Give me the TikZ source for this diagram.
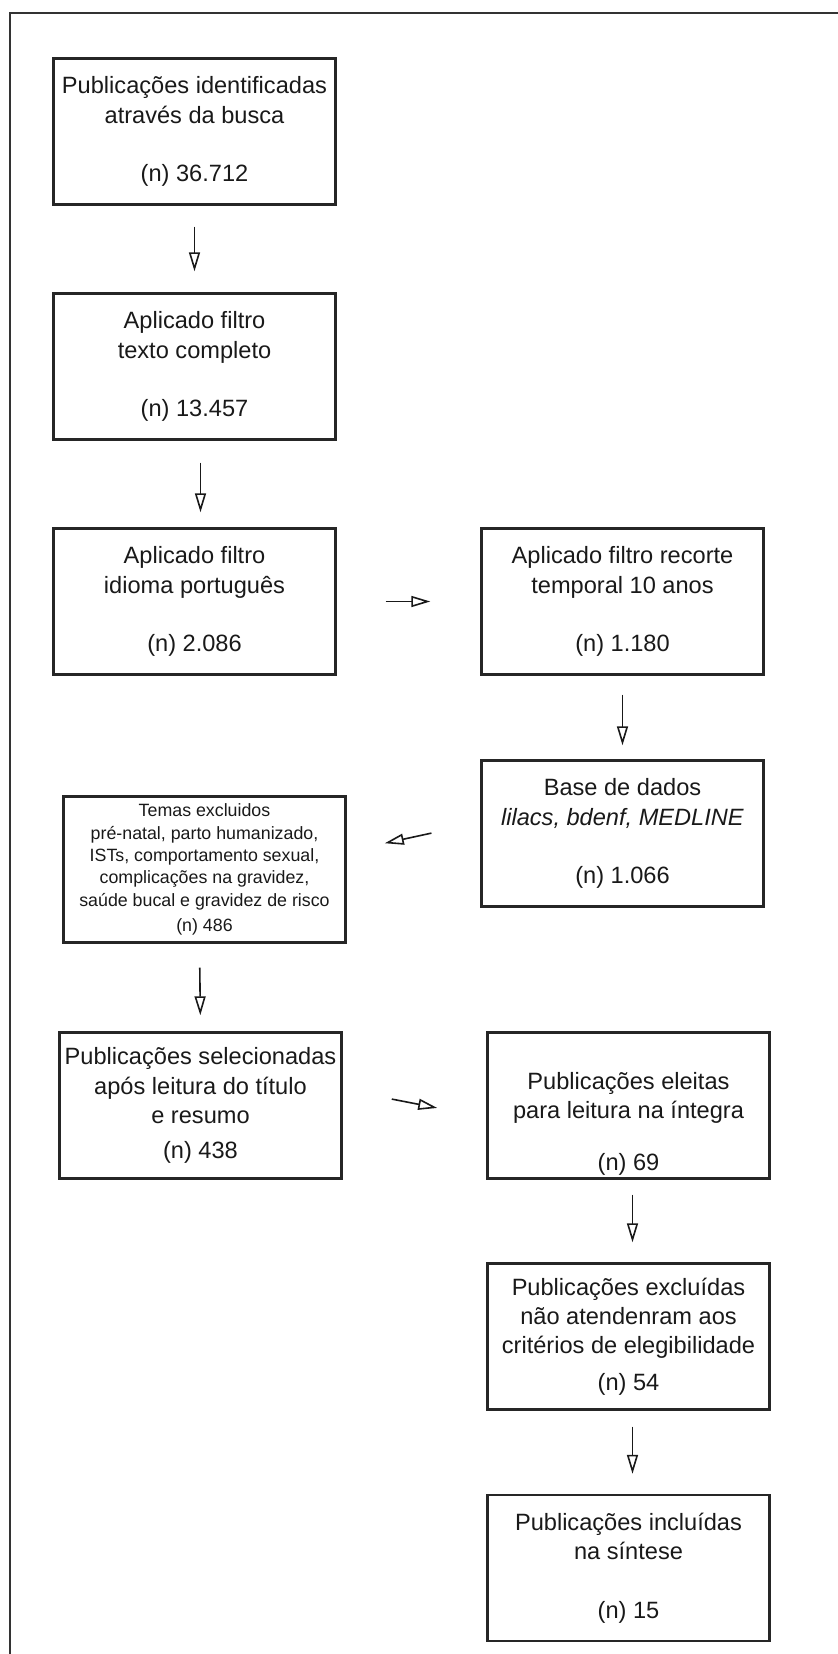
\documentclass[tikz,border=0pt]{standalone}
\usepackage{fontspec}
\setmainfont{Liberation Sans}
\usetikzlibrary{positioning, arrows.meta}

\begin{document}
\begin{tikzpicture}[>={Triangle[open,length=9.5pt,width=5.5pt]},node distance=117.5pt and 214pt,on grid,
    box/.style={draw=black!85,line width=1.2pt,minimum width=141pt,minimum height=73pt,inner sep=0pt,
        align=center,text=black!90,font=\fontsize{11.8}{14.6}\selectfont},
    miudo/.style={font=\fontsize{8.9}{11.2}\selectfont},
    seta/.style={->,color=black!90,line width=0.8pt,shorten >=9pt,shorten <=9pt}]

    \useasboundingbox (0,0) rectangle (419pt,-827pt);
    \draw[line width=1.1pt,black!80] (5pt,-827pt) |- (419pt,-6.5pt);

    \node[box] (busca) at (97.25pt,-65.75pt) {Publicações identificadas\\através da busca\\ \\(n) 36.712};
    \node[box] (texto) [below=of busca] {Aplicado filtro\\texto completo\\ \\(n) 13.457};
    \node[box] (idioma) [below=of texto] {Aplicado filtro\\idioma português\\ \\(n) 2.086};
    \node[box] (recorte) [right=of idioma] {Aplicado filtro recorte\\temporal 10 anos\\ \\(n) 1.180};
    \node[box] (bases) [below=116pt of recorte] {Base de dados\\\textit{lilacs, bdenf, MEDLINE}\\ \\(n) 1.066};
    \node[box,miudo] (temas) [below left=18pt and 209pt of bases] {Temas excluidos\\pré-natal, parto humanizado,\\ISTs, comportamento sexual,\\complicações na gravidez,\\saúde bucal e gravidez de risco\\[1.5pt](n) 486};
    \node[box] (selec) [below left=118pt and 2pt of temas] {Publicações selecionadas\\após leitura do título\\e resumo\\[3pt](n) 438};
    \node[box] (eleitas) [right=of selec] {\rule{0pt}{27pt}Publicações eleitas\\para leitura na íntegra\\[11.5pt](n) 69};
    \node[box] (excl) [below=115.5pt of eleitas] {Publicações excluídas\\não atendenram aos\\critérios de elegibilidade\\[3.5pt](n) 54};
    \node[box] (sintese) [below=115.75pt of excl] {Publicações incluídas\\na síntese\\ \\(n) 15};

    \path[seta]
    (busca) edge[shorten <=10.5pt,shorten >=10.5pt] (texto)
    ([xshift=3pt]texto.south) edge[shorten <=11pt,shorten >=7.5pt] ([xshift=3pt]idioma.north)
    (idioma) edge[shorten <=24.5pt,shorten >=25pt] (recorte)
    (recorte) edge[shorten <=9.5pt,shorten >=7pt] (bases)
    ([yshift=5.5pt]bases.west) edge[shorten <=25pt,shorten >=19.5pt] ([yshift=9pt]temas.east)
    ([xshift=-2.5pt]temas.south) edge[shorten <=12pt,shorten >=8pt] (selec.north)
    ([yshift=8pt]selec.east) edge[shorten <=25pt,shorten >=25pt] ([yshift=-6pt]eleitas.west)
    ([xshift=2pt]eleitas.south) edge[shorten <=7.5pt,shorten >=10pt] ([xshift=2pt]excl.north)
    ([xshift=2pt]excl.south) edge[shorten <=8pt,shorten >=10pt] ([xshift=2pt]sintese.north)
    ;
\end{tikzpicture}
\end{document}
